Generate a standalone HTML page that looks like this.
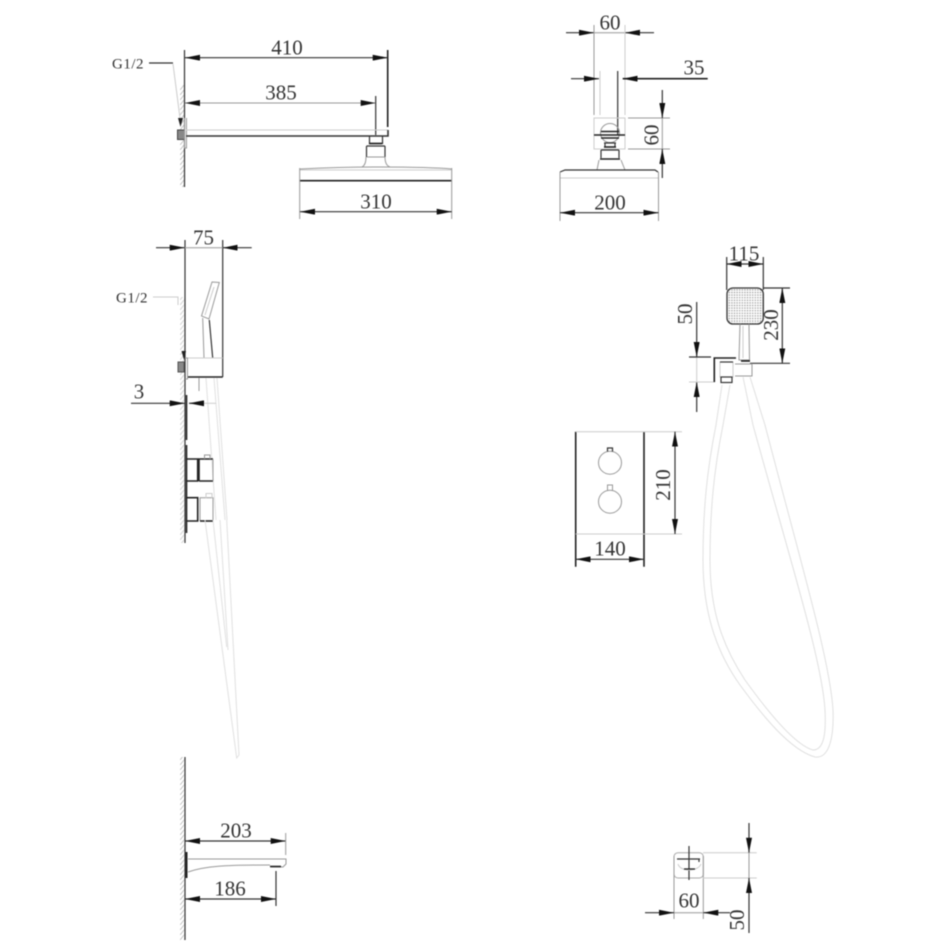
<!DOCTYPE html>
<html><head><meta charset="utf-8"><style>
html,body{margin:0;padding:0;background:#fff}
svg{display:block;filter:blur(.4px)}
text{font-family:"Liberation Serif",serif;font-size:21px;fill:#333;text-anchor:middle}
.d{stroke:#333;stroke-width:1.2;fill:none}
.k{stroke:#222;stroke-width:1.6;fill:none}
.m{stroke:#999;stroke-width:1;fill:none}
.l{stroke:#ccc;stroke-width:1;fill:none}
.h{stroke:#e0e0e0;stroke-width:1;fill:none}
.w{fill:url(#hatch)}
.g{font-size:15px;letter-spacing:.5px}
</style></head><body>
<svg width="950" height="950" viewBox="0 0 950 950" xmlns="http://www.w3.org/2000/svg">
<defs>
<marker id="a" viewBox="0 0 15 6" refX="15" refY="3" markerWidth="15" markerHeight="6" markerUnits="userSpaceOnUse" orient="auto-start-reverse"><path d="M0 0L15 3L0 6Z" fill="#111"/></marker>
<pattern id="hatch" width="4" height="5" patternUnits="userSpaceOnUse"><path d="M0 5L4 0" stroke="#c4c4c4" stroke-width="1"/></pattern>
<pattern id="dots" width="2.6" height="2.6" patternUnits="userSpaceOnUse"><circle cx="1.3" cy="1.3" r=".75" fill="#999"/></pattern>
</defs>

<!-- Top-left: shower arm side -->
<rect class="w" x="180" y="85" width="4.5" height="102"/>
<path class="d" d="M184.500 50V187"/>
<path class="k" d="M387.700 50V127"/>
<path class="d" d="M185 57.700H387.700" marker-start="url(#a)" marker-end="url(#a)"/>
<text x="287" y="54.500">410</text>
<path class="m" d="M185 103H375.700" marker-start="url(#a)" marker-end="url(#a)"/>
<path class="d" d="M375.700 96V135"/>
<text x="281" y="99.500">385</text>
<text x="128" y="68.500" class="g">G1/2</text>
<path class="d" d="M149 63H173"/>
<path class="l" d="M173 64L180 118"/>
<path d="M178 118L183 118L180.500 127Z" fill="#222"/>
<rect x="177.500" y="130" width="7" height="9.500" fill="#888" stroke="#444"/>
<path class="m" d="M184.500 118V148H186.500V118"/>
<path class="l" d="M186 130H388"/>
<path d="M186 136H388V130" stroke="#333" stroke-width="1.600" fill="none"/>
<path class="d" d="M369.500 136V143.500H382.500V136"/>
<path class="d" d="M366.500 146V157M385 146V157M366.500 146H385"/>
<path class="k" d="M369 143.500H382"/>
<path class="m" d="M367 157H385M366 157C366 163 364 166 362 167M385 157C385 163 387 166 390 167"/>
<path class="m" d="M300 169C340 167 362 167 375 167C395 167 430 167 452 169"/>
<path class="l" d="M300 170H452"/>
<path class="k" d="M300 180.700H452"/>
<path class="m" d="M299.700 168V219M451.700 168V219"/>
<path class="d" d="M300 211.700H451.700" marker-start="url(#a)" marker-end="url(#a)"/>
<text x="376" y="208.500">310</text>

<!-- Top-right: shower front -->
<path class="d" d="M566 32.700H594" marker-end="url(#a)"/>
<path class="d" d="M654 32.700H625" marker-end="url(#a)"/>
<path class="m" d="M594 32.700H625"/>
<path class="m" d="M594 25V115"/>
<path class="l" d="M625 25V115"/>
<text x="610" y="29.500">60</text>
<path class="d" d="M571 78.700H599" marker-end="url(#a)"/>
<path class="k" d="M707.700 78.700H622.700" marker-end="url(#a)"/>
<text x="694" y="74.500">35</text>
<path class="l" d="M600 71V115"/>
<path class="d" d="M617.700 71V135"/>
<path class="l" d="M594 118H625V149H594Z"/>
<path class="m" d="M628 118H670M628 149H670"/>
<path class="d" d="M662.300 90V118" marker-end="url(#a)"/>
<path class="d" d="M662.300 178V149" marker-end="url(#a)"/>
<path class="m" d="M662.300 118V149"/>
<text transform="translate(658.500,135) rotate(-90)" x="0" y="0">60</text>
<circle class="m" cx="610" cy="133" r="9.500"/>
<path class="k" d="M594 135H625M601 131.500H619M601 138H619"/>
<path class="d" d="M604 143H616M605 143V147M615 143V147"/>
<path class="k" d="M604 147H616"/>
<path class="d" d="M601 150H619M601 150V158M619 150V158"/>
<path class="k" d="M600 159H620"/>
<path class="m" d="M599 160L597 170M621 160L625 170"/>
<path class="d" d="M560 172L565 170H655L658 172"/>
<path class="l" d="M560 178H658"/>
<path class="m" d="M560 172V221M658.500 172V221"/>
<path class="d" d="M560 212.700H658.500" marker-start="url(#a)" marker-end="url(#a)"/>
<text x="610" y="209.500">200</text>

<!-- Left: hand shower side and valve -->
<rect class="w" x="180" y="297" width="4.500" height="246" opacity=".75"/>
<path class="d" d="M185 240V543"/>
<path class="d" d="M222.700 240V377"/>
<path class="d" d="M156 247.700H184.700" marker-end="url(#a)"/>
<path class="d" d="M251.700 247.700H222.700" marker-end="url(#a)"/>
<path class="m" d="M184.700 247.700H222.700"/>
<text x="203.500" y="244.500">75</text>
<text x="132" y="302.500" class="g">G1/2</text>
<path class="l" d="M153 297H178V305"/>
<path class="m" d="M212 282L219.300 282.500L209 319L201.500 316Z"/>
<path class="l" d="M214 287L205 315"/>
<path class="m" d="M202.700 318L204 358"/>
<path class="d" d="M209.300 320L212.700 358"/>
<path d="M181.500 351L186 351L184 360Z" fill="#222"/>
<rect x="178" y="362" width="6" height="10" fill="#888" stroke="#555"/>
<path class="l" d="M188 358H222.700"/>
<path class="k" d="M188 377H222.700"/>
<path class="m" d="M185 358H187.500V379H185"/>
<path class="m" d="M199 378V391"/>
<path class="h" d="M206 378L216 520M214 378L225 520M217 378L227 520"/>
<path class="d" d="M131 403.300H184.700" marker-end="url(#a)"/>
<path class="d" d="M189 403.300H204" marker-start="url(#a)"/>
<path class="l" d="M204 403.300H216"/>
<text x="139" y="398.500">3</text>
<path class="k" d="M186.500 395V440M186.500 445V533"/>
<path class="k" d="M187 459H197.700V481H187"/>
<path class="k" d="M199 481V459H213M199 481H213"/>
<path class="m" d="M213 459V481"/>
<path class="m" d="M204.500 459V455H210V459"/>
<path class="k" d="M187 497.700H197.700V521H187"/>
<path class="m" d="M200 521V497.700H213V521"/>
<path class="k" d="M200 521H213"/>
<path class="l" d="M206 498V493.500H212V498"/>
<path class="h" d="M205 520L236.700 758L239 755L226.700 520"/>
<path class="h" d="M213 520L226.700 647M220 520L228 650"/>

<!-- Right: hand shower front -->
<path class="d" d="M726.700 257V290M763.300 257V290"/>
<path class="d" d="M745 264H726.700" marker-end="url(#a)"/>
<path class="d" d="M745 264H763.300" marker-end="url(#a)"/>
<text x="744" y="260.500">115</text>
<rect x="727" y="288" width="36.300" height="36" rx="6" ry="6" fill="url(#dots)" stroke="#333" stroke-width="1.300"/>
<path class="m" d="M740 324L739 360H749.500L749 324"/>
<path class="l" d="M743 326V358"/>
<path class="k" d="M741 361H750"/>
<path class="d" d="M763 288H790M750 363.300H790"/>
<path class="d" d="M782.300 288V363.300" marker-start="url(#a)" marker-end="url(#a)"/>
<text transform="translate(778,325) rotate(-90)" x="0" y="0">230</text>
<path class="d" d="M696.700 302V357" marker-end="url(#a)"/>
<path class="d" d="M696.700 412V382" marker-end="url(#a)"/>
<path class="l" d="M696.700 357V382"/>
<path class="d" d="M689 357H711"/>
<path class="l" d="M689 382H715"/>
<text transform="translate(692,314) rotate(-90)" x="0" y="0">50</text>
<path class="k" d="M714.300 382V358H736"/>
<path class="l" d="M720 362H733V377H720Z"/>
<path class="d" d="M720 362H733"/>
<rect x="721" y="377" width="11" height="5.500" fill="none" stroke="#333" stroke-width="1.200"/>
<path class="m" d="M735 364H752V376H735"/>
<path class="h" d="M722 385L716 425C707 470 703 510 703 560C703 610 715 650 740 685C762 715 790 750 815 757C830 759 834 735 833 710C830 660 800 560 765 425L750 377"/>
<path class="h" d="M730 385L723 425C714 470 710 510 710 560C710 610 722 645 745 680C768 712 795 745 813 750C825 750 826 730 825 710C822 660 790 560 753 425L743 377"/>

<!-- Valve plate -->
<path class="k" d="M575.700 431.700V566.700M644 431.700V566.700"/>
<path class="l" d="M575.700 431.700H682M575.700 534H682"/>
<path class="d" d="M675 431.700V534" marker-start="url(#a)" marker-end="url(#a)"/>
<text transform="translate(670,485) rotate(-90)" x="0" y="0">210</text>
<path class="d" d="M575.700 559.300H644" marker-start="url(#a)" marker-end="url(#a)"/>
<text x="610" y="555.500">140</text>
<circle class="m" cx="610" cy="462.700" r="11.500"/>
<path class="d" d="M607.500 451.500V448H612.500V451.500"/>
<circle class="m" cx="610" cy="501.700" r="11.500"/>
<path class="m" d="M607.500 490.500V485H612.500V490.500"/>

<!-- Spout side -->
<rect class="w" x="180" y="757" width="4.500" height="183"/>
<path class="d" d="M185 757V940"/>
<path class="d" d="M185 841H285.700" marker-start="url(#a)" marker-end="url(#a)"/>
<path class="m" d="M285.700 833V855"/>
<text x="236" y="837.500">203</text>
<path class="k" d="M186.500 852V878" style="stroke-width:2"/>
<path class="m" d="M188 859H286V864L283 867H271"/>
<path class="k" d="M270 866.500H281"/>
<path class="m" d="M188 872C205 866 225 865 270 865"/>
<path class="d" d="M276 871V906"/>
<path class="d" d="M185 899H276" marker-start="url(#a)" marker-end="url(#a)"/>
<text x="230" y="895.500">186</text>

<!-- Spout front -->
<rect x="674" y="852.700" width="29.300" height="25.300" rx="4" ry="4" fill="none" stroke="#aaa"/>
<path class="m" d="M674 856V919M703.300 856V919"/>
<path class="l" d="M703 852.700H756.700M703 878H756.700"/>
<path class="d" d="M749 823V852.700" marker-end="url(#a)"/>
<path class="d" d="M749 933V878" marker-end="url(#a)"/>
<path class="m" d="M749 852.700V878"/>
<path class="d" d="M689 846V880"/>
<path class="d" d="M677 859H700M699 859V862"/>
<path class="l" d="M678 864C680 872 698 872 701 864"/>
<path class="k" d="M684 869H695" style="stroke-width:1.300"/>
<path class="d" d="M645 912.700H674" marker-end="url(#a)"/>
<path class="d" d="M730 912.700H703.300" marker-end="url(#a)"/>
<path class="m" d="M674 912.700H703.300"/>
<text x="689" y="907.500">60</text>
<text transform="translate(744,920) rotate(-90)" x="0" y="0">50</text>
</svg>
</body></html>
